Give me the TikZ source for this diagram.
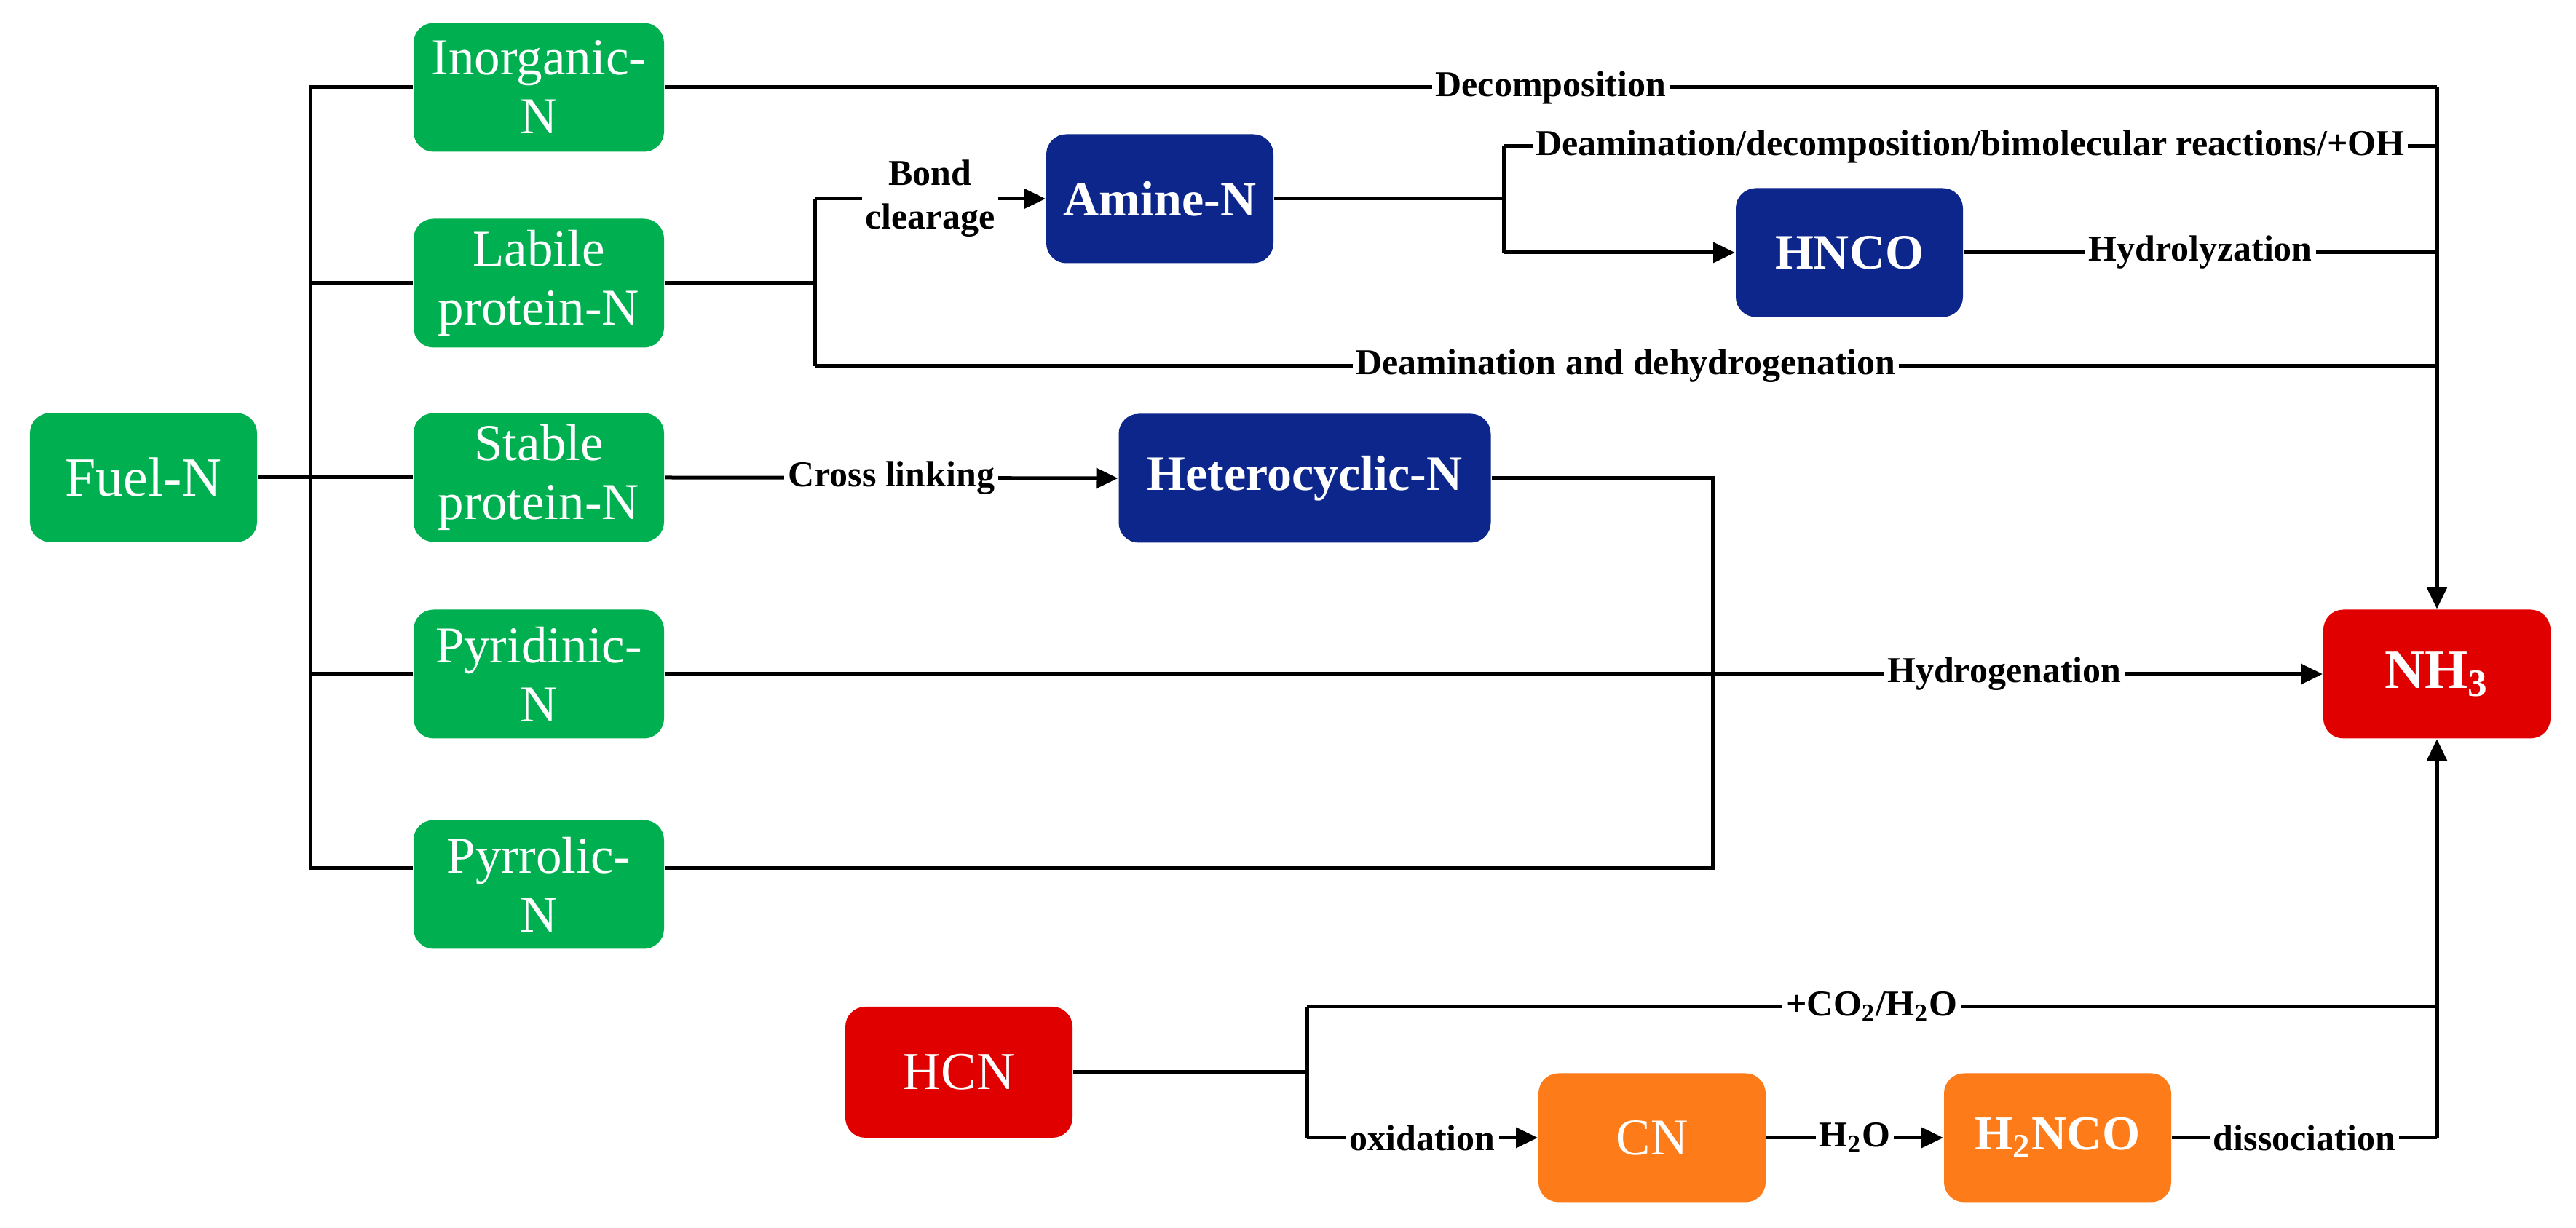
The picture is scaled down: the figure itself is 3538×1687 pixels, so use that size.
\documentclass[tikz,border=0pt]{standalone}
\usepackage{fontspec}
\setmainfont{Liberation Serif}
\usetikzlibrary{arrows.meta}
\definecolor{gN}{RGB}{0,176,80}
\definecolor{bN}{RGB}{12,38,140}
\definecolor{rN}{RGB}{224,0,0}
\definecolor{oN}{RGB}{253,123,24}
\tikzset{
 box/.style={rounded corners=5.5pt, text=white, align=center, inner sep=0pt, minimum width=62.4pt, minimum height=35.4pt},
 greenbox/.style={box, fill=gN, minimum width=68.8pt, font=\fontsize{14.2}{16.2}\selectfont},
 bluebox/.style={box, fill=bN, font=\bfseries\fontsize{13.6}{16}\selectfont},
 redbox/.style={box, fill=rN},
 orangebox/.style={box, fill=oN},
 lab/.style={fill=white, inner xsep=1pt, inner ysep=1pt, text=black, font=\bfseries\fontsize{10}{12}\selectfont},
 conn/.style={draw=black, line width=1pt},
 arr/.style={conn, -{Triangle[length=6pt,width=5.5pt]}},
}
\begin{document}
\begin{tikzpicture}[x=0.2pt,y=-0.2pt]
\useasboundingbox (0,0) rectangle (3538,1687);
% nodes
\node[greenbox, minimum width=62.4pt, font=\fontsize{15.2}{17}\selectfont] (fuel) at (197,656) {Fuel-N};
\node[greenbox] (inorg) at (740,120) {Inorganic-\\N};
\node[greenbox] (labile) at (740,389) {Labile\\protein-N};
\node[greenbox] (stable) at (740,656) {Stable\\protein-N};
\node[greenbox] (pyrid) at (740,926) {Pyridinic-\\N};
\node[greenbox] (pyrrol) at (740,1215) {Pyrrolic-\\N};
\node[bluebox] (amine) at (1593,273) {Amine-N};
\node[bluebox] (hnco) at (2540,347) {HNCO};
\node[bluebox, minimum width=102.2pt] (hetero) at (1792,657) {Heterocyclic-N};
\node[redbox, font=\bfseries\fontsize{15.2}{17}\selectfont] (nh3) at (3347,926) {NH\textsubscript{3}};
\node[redbox, font=\fontsize{14.6}{17}\selectfont, minimum height=36pt] (hcn) at (1317,1473) {HCN};
\node[orangebox, font=\fontsize{14.2}{17}\selectfont] (cn) at (2269,1563) {CN};
\node[orangebox, font=\bfseries\fontsize{13.4}{16}\selectfont] (h2nco) at (2826,1563) {H\textsubscript{2}NCO};
% helper coordinates
\coordinate (b1) at (426,0);
\coordinate (b1b) at (426,1193);
\coordinate (b2t) at (1119,273);
\coordinate (b2b) at (1119,503);
\coordinate (b3t) at (2065,201);
\coordinate (b3b) at (2065,347);
\coordinate (b4) at (2352,0);
\coordinate (b5t) at (1795,1383);
\coordinate (b5b) at (1795,1563);
% Fuel-N bus
\draw[conn] (fuel.east) -- (stable.west);
\draw[conn] (inorg.west) -| (b1b) -- (pyrrol.west |- b1b);
\draw[conn] (labile.west) -- (labile.west -| b1);
\draw[conn] (pyrid.west) -- (pyrid.west -| b1);
% Inorganic
\draw[conn] (inorg.east) -- node[lab]{Decomposition} (inorg.east -| nh3.north);
\draw[arr] (inorg.east -| nh3.north) -- (nh3.north);
% Labile
\draw[conn] (labile.east) -- (labile.east -| b2t);
\draw[conn] (b2t) -- (b2b);
\draw[arr] (b2t) -- node[lab, align=center]{Bond\\clearage} (amine.west);
\draw[conn] (b2b) -- node[lab]{Deamination and dehydrogenation} (b2b -| nh3.north);
% Amine
\draw[conn] (amine.east) -- (amine.east -| b3t);
\draw[conn] (b3t) -- (b3b);
\draw[conn] (b3t) -- node[lab]{Deamination/decomposition/bimolecular reactions/+OH} (b3t -| nh3.north);
\draw[arr] (b3b) -- (hnco.west);
\draw[conn] (hnco.east) -- node[lab]{Hydrolyzation} (hnco.east -| nh3.north);
% Stable
\draw[arr] (stable.east) -- node[lab]{Cross linking} (hetero.west);
\draw[conn] (hetero.east) -| (b4 |- b1b) -- (pyrrol.east |- b1b);
% Pyridinic
\draw[arr] (pyrid.east) -- node[lab, pos=0.808]{Hydrogenation} (nh3.west);
% HCN
\draw[conn] (hcn.east) -- (hcn.east -| b5t);
\draw[conn] (b5t) -- (b5b);
\draw[conn] (b5t) -- node[lab]{+CO\textsubscript{2}/H\textsubscript{2}O} (b5t -| nh3.south);
\draw[arr] (b5b) -- node[lab]{oxidation} (cn.west);
\draw[arr] (cn.east) -- node[lab]{H\textsubscript{2}O} (h2nco.west);
\draw[conn] (h2nco.east) -- node[lab]{dissociation} (h2nco.east -| nh3.south);
\draw[arr] (h2nco.east -| nh3.south) -- (nh3.south);
\end{tikzpicture}
\end{document}
